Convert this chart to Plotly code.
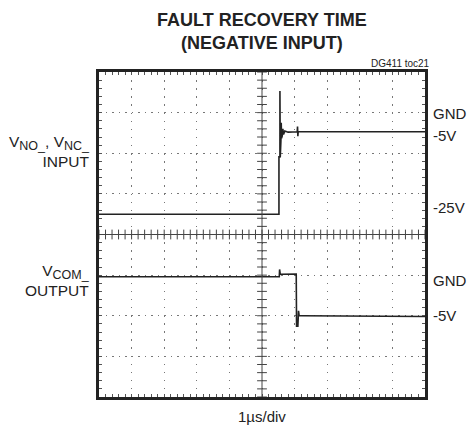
import plotly.graph_objects as go
import numpy as np

# ---- data (time in µs, voltage in V) ----
t_input = [0, 5.52, 5.52, 5.55, 5.55, 5.56, 5.57, 5.58, 5.59, 5.60, 5.61, 5.62, 5.64, 5.66, 5.70, 5.80, 6.08, 6.09, 6.10, 6.11, 10]
v_input = [-25, -25, -10.9, -10.9, 5.3, -10.9, -1.7, -7.0, -2.5, -6.3, -3.5, -5.8, -4.0, -5.4, -4.5, -4.8, -4.7, -3.4, -5.8, -4.7, -4.7]

t_output = [0, 5.53, 5.54, 5.56, 6.05, 6.06, 6.10, 6.12, 6.14, 6.20, 10]
v_output = [-0.2, -0.2, 0.7, 0.1, 0.13, -6.3, -6.3, -4.4, -5.0, -5.0, -5.1]

right_labels = ["GND", "-5V", "-25V", "GND", "-5V"]
right_label_px = [113, 135, 207, 280, 315]

W, H = 472, 430
L, R, T, B = 99, 425, 72, 397

def px_x(px):
    return (px - L) / (R - L)

def px_y(py):
    return (B - py) / (B - T)

font = "Liberation Sans, Arial, sans-serif"
ink = "#222222"

fig = go.Figure()

# center-line minor tick marks (decoration)
xt = np.round(np.arange(0, 10.001, 0.2), 3)
fig.add_trace(go.Scatter(x=xt, y=[-30] * len(xt), mode="markers",
                         marker=dict(symbol="line-ns", size=7, line=dict(width=1, color="#444")),
                         hoverinfo="skip", showlegend=False))
yt = np.round(np.arange(-70, 10.001, 2), 3)
fig.add_trace(go.Scatter(x=[5] * len(yt), y=yt, mode="markers",
                         marker=dict(symbol="line-ew", size=7, line=dict(width=1, color="#444")),
                         hoverinfo="skip", showlegend=False))

fig.add_trace(go.Scatter(x=t_input, y=v_input, mode="lines",
                         line=dict(color=ink, width=1.6), showlegend=False))
fig.add_trace(go.Scatter(x=t_output, y=v_output, mode="lines", yaxis="y2",
                         line=dict(color=ink, width=1.6), showlegend=False))

fig.update_layout(
    width=W, height=H,
    margin=dict(l=L, r=W - R, t=T, b=H - B),
    paper_bgcolor="white", plot_bgcolor="white",
    xaxis=dict(range=[0, 10], dtick=1, showticklabels=False,
               showgrid=True, gridcolor="#777", gridwidth=1, griddash="1.5px,6.6px",
               zeroline=False, showline=True, linecolor=ink, linewidth=2.6, mirror="ticks",
               ticks="inside", ticklen=3, tickcolor="#555",
               minor=dict(dtick=0.2, ticks="inside", ticklen=3, tickcolor="#555", showgrid=False)),
    yaxis=dict(range=[-70, 10], dtick=10, showticklabels=False,
               showgrid=True, gridcolor="#777", gridwidth=1, griddash="1.5px,5px",
               zeroline=False, showline=True, linecolor=ink, linewidth=2.6, mirror="ticks",
               ticks="inside", ticklen=3, tickcolor="#555",
               minor=dict(dtick=2, ticks="inside", ticklen=3, tickcolor="#555", showgrid=False)),
    yaxis2=dict(range=[-15, 25], overlaying="y", showticklabels=False, showgrid=False,
                zeroline=False, showline=False, ticks=""),
    shapes=[
        dict(type="line", xref="paper", yref="y", x0=0, x1=1, y0=-30, y1=-30,
             line=dict(color="#444", width=1)),
        dict(type="line", xref="x", yref="paper", x0=5, x1=5, y0=0, y1=1,
             line=dict(color="#444", width=1)),
    ],
)

ann = []
ann.append(dict(text="<b>FAULT RECOVERY TIME</b>", x=px_x(262), y=px_y(20)))
ann.append(dict(text="<b>(NEGATIVE INPUT)</b>", x=px_x(262), y=px_y(43)))
for a in ann:
    a.update(xref="paper", yref="paper", showarrow=False, xanchor="center", yanchor="middle",
             font=dict(family=font, size=18, color=ink))

ann.append(dict(text="DG411 toc21", x=px_x(432), y=px_y(64), xref="paper", yref="paper",
                showarrow=False, xanchor="right", yanchor="middle",
                font=dict(family="Liberation Sans Narrow, Liberation Sans, Arial", size=10, color=ink)))

for lab, py in zip(right_labels, right_label_px):
    ann.append(dict(text=lab, x=px_x(431), y=px_y(py), xref="paper", yref="paper",
                    showarrow=False, xanchor="left", yanchor="middle",
                    font=dict(family=font, size=15, color=ink)))

sub = '<sub><span style="font-size:12.5px">{}</span></sub>'
ann.append(dict(text="V" + sub.format("NO_") + ", V" + sub.format("NC_") + "<br>INPUT",
                x=px_x(92), y=px_y(151),
                xref="paper", yref="paper", showarrow=False, xanchor="right", yanchor="middle",
                align="right", font=dict(family=font, size=15.5, color=ink)))
ann.append(dict(text="V" + sub.format("COM_") + "<br>OUTPUT", x=px_x(92), y=px_y(280),
                xref="paper", yref="paper", showarrow=False, xanchor="right", yanchor="middle",
                align="right", font=dict(family=font, size=15.5, color=ink)))
ann.append(dict(text="1µs/div", x=px_x(262), y=px_y(416), xref="paper", yref="paper",
                showarrow=False, xanchor="center", yanchor="middle",
                font=dict(family=font, size=15, color=ink)))

fig.update_layout(annotations=ann)
fig.write_html("out.html", config={"displayModeBar": False},
               post_script="document.body.style.margin='0';document.body.style.overflow='hidden';")
